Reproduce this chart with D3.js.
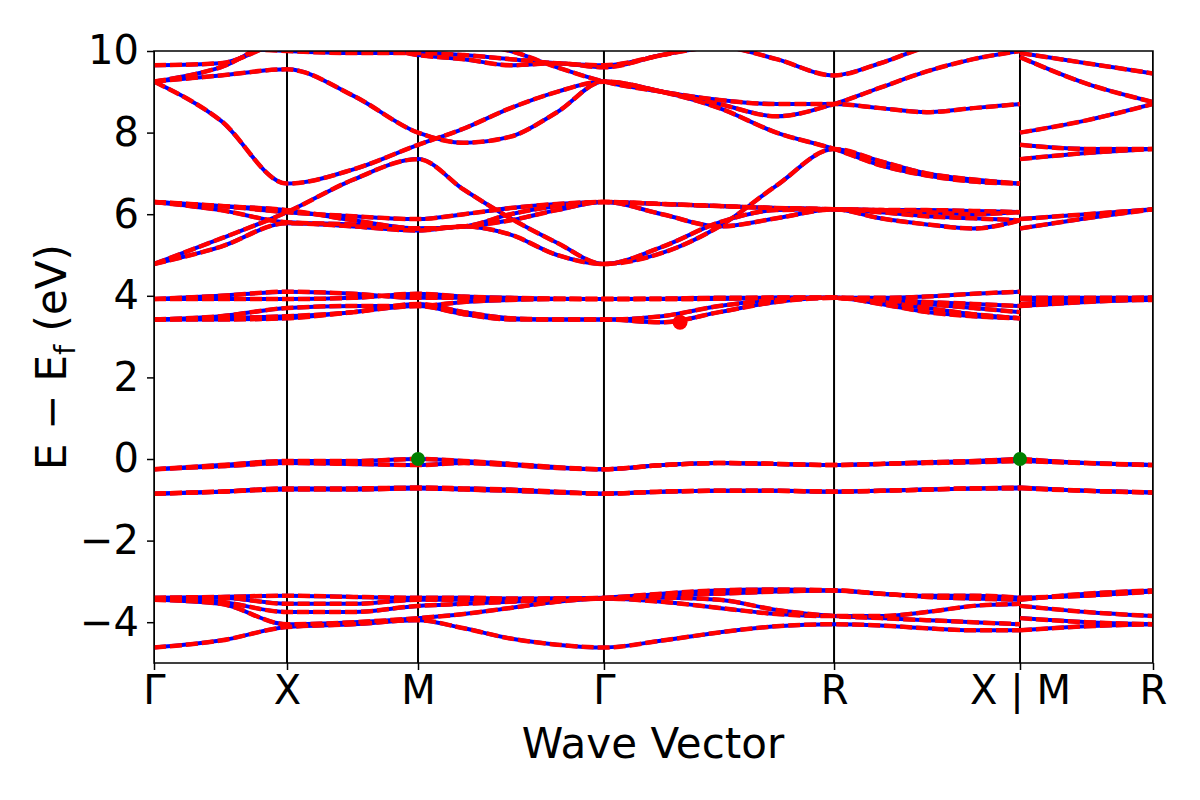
<!DOCTYPE html>
<html><head><meta charset="utf-8">
<script src="https://d3js.org/d3.v7.min.js"></script>
<style>body{margin:0;background:#fff}text{font-family:"DejaVu Sans",sans-serif}</style>
</head><body><svg id="c" width="1200" height="800"></svg>
<script>
const tickLabels=["Γ","X","M","Γ","R","X | M","R"];
const tickK=[0,1,1.985,3.383,5.113,6.511,7.511];
const kA=[0,0.5,1,1.5,1.985,2.33,2.68,3.03,3.383,3.82,4.25,4.68,5.113,5.46,5.81,6.16,6.511];
const kB=[6.511,7.011,7.511];
const bandsA=[
[-4.62,-4.45,-4.12,-4.05,-3.95,-4.15,-4.4,-4.55,-4.62,-4.45,-4.25,-4.1,-4.05,-4.08,-4.15,-4.2,-4.2],
[-3.45,-3.55,-4.05,-4.0,-3.9,-3.8,-3.65,-3.5,-3.42,-3.5,-3.65,-3.8,-3.85,-3.85,-3.75,-3.6,-3.55],
[-3.42,-3.5,-3.75,-3.75,-3.6,-3.55,-3.5,-3.45,-3.42,-3.4,-3.45,-3.7,-3.85,-3.9,-3.95,-4.0,-4.05],
[-3.42,-3.4,-3.55,-3.55,-3.45,-3.45,-3.45,-3.42,-3.42,-3.35,-3.3,-3.25,-3.22,-3.3,-3.38,-3.42,-3.45],
[-3.4,-3.38,-3.35,-3.38,-3.4,-3.4,-3.42,-3.42,-3.4,-3.3,-3.22,-3.2,-3.22,-3.3,-3.35,-3.35,-3.4],
[-0.85,-0.8,-0.72,-0.72,-0.7,-0.72,-0.75,-0.8,-0.85,-0.8,-0.78,-0.78,-0.8,-0.78,-0.75,-0.72,-0.7],
[-0.85,-0.8,-0.75,-0.75,-0.72,-0.75,-0.78,-0.82,-0.85,-0.8,-0.78,-0.78,-0.8,-0.78,-0.75,-0.72,-0.72],
[-0.25,-0.15,-0.05,-0.05,0.0,-0.05,-0.12,-0.2,-0.25,-0.15,-0.1,-0.12,-0.15,-0.12,-0.08,-0.05,0.0],
[-0.25,-0.18,-0.1,-0.12,-0.15,-0.1,-0.15,-0.22,-0.25,-0.15,-0.1,-0.12,-0.15,-0.12,-0.1,-0.08,-0.05],
[3.92,3.92,3.92,3.95,4.05,3.98,3.95,3.93,3.92,3.93,3.95,3.95,3.95,3.95,3.98,4.05,4.1],
[3.92,4.0,4.1,4.05,3.95,3.95,3.92,3.92,3.92,3.92,3.93,3.95,3.95,3.9,3.85,3.8,3.75],
[3.42,3.5,3.7,3.75,3.75,3.85,3.9,3.92,3.92,3.92,3.93,3.95,3.95,3.9,3.8,3.7,3.6],
[3.42,3.45,3.5,3.6,3.8,3.6,3.45,3.42,3.42,3.35,3.6,3.85,3.95,3.85,3.7,3.55,3.45],
[3.42,3.42,3.45,3.6,3.75,3.55,3.42,3.42,3.42,3.5,3.75,3.9,3.95,3.8,3.6,3.5,3.45],
[6.3,6.2,6.05,5.95,5.88,6.0,6.15,6.25,6.3,6.25,6.2,6.15,6.12,6.1,6.1,6.08,6.05],
[6.3,6.1,5.8,5.75,5.65,5.7,5.85,6.1,6.3,6.0,5.7,5.9,6.12,5.9,5.75,5.65,5.85],
[6.3,6.2,6.1,5.85,5.65,5.7,6.0,6.2,6.3,6.25,6.2,6.15,6.12,6.05,5.95,5.9,5.85],
[4.78,5.2,5.78,5.7,5.6,5.7,5.5,5.0,4.78,5.05,5.7,6.7,7.6,7.3,7.0,6.85,6.75],
[4.78,5.4,6.05,6.85,7.35,6.6,5.9,5.3,4.78,5.2,5.8,6.1,6.12,6.1,6.05,6.0,6.05],
[9.25,8.3,6.75,7.1,7.7,8.1,8.6,9.0,9.25,9.0,8.7,8.4,8.7,9.1,9.5,9.8,10.0],
[9.25,9.4,9.55,8.9,8.0,7.75,7.9,8.5,9.25,9.0,8.6,8.0,7.6,7.2,6.95,6.8,6.75],
[9.65,9.7,10.2,10.2,9.9,9.8,9.65,9.7,9.6,9.9,10.1,9.8,9.4,9.7,10.1,10.3,10.3],
[10.3,10.1,10.0,9.95,9.95,9.9,9.8,9.7,9.65,9.9,10.2,10.2,10.2,10.3,10.3,10.3,10.3],
[9.25,9.6,10.3,10.3,10.3,10.2,10.0,9.6,9.25,9.0,8.8,8.7,8.7,8.6,8.5,8.6,8.7]
];
const bandsB=[
[-3.45,-3.3,-3.22],[-3.6,-3.75,-3.85],[-3.9,-4.0,-4.05],[-4.2,-4.1,-4.05],[-3.4,-3.35,-3.25],
[-0.05,-0.1,-0.15],[0.0,-0.1,-0.15],[-0.7,-0.78,-0.82],[-0.72,-0.78,-0.82],
[3.75,3.9,3.95],[3.8,3.88,3.9],[3.95,3.95,3.95],[3.92,3.93,3.95],[3.75,3.85,3.92],
[9.95,9.7,9.45],[9.85,9.2,8.75],[8.0,8.3,8.7],[7.7,7.6,7.6],[7.35,7.5,7.6],[5.88,6.0,6.12],[5.65,5.9,6.12]
];
const redDot=[[3.955,3.35]];
const greenDots=[[1.985,0],[6.511,0]];
const yTicks=[-4,-2,0,2,4,6,8,10];

const svg=d3.select("#c");
const x=d3.scaleLinear().domain([0,7.511]).range([154,1153]);
const y=d3.scaleLinear().domain([-5,10]).range([663,51]);
svg.append("clipPath").attr("id","cl").append("rect").attr("x",154).attr("y",51).attr("width",999).attr("height",612);
const g=svg.append("g").attr("clip-path","url(#cl)");
tickK.forEach(k=>g.append("line").attr("x1",x(k)).attr("x2",x(k)).attr("y1",51).attr("y2",663).attr("stroke","#000").attr("stroke-width",2));
const line=d3.line().x(d=>x(d[0])).y(d=>y(d[1])).curve(d3.curveMonotoneX);
const all=[];
bandsA.forEach(b=>all.push(b.map((v,i)=>[kA[i],v])));
bandsB.forEach(b=>all.push(b.map((v,i)=>[kB[i],v])));
all.forEach(p=>g.append("path").attr("d",line(p)).attr("fill","none").attr("stroke","#0000ff").attr("stroke-width",4));
all.forEach(p=>g.append("path").attr("d",line(p)).attr("fill","none").attr("stroke","#ff0000").attr("stroke-width",4.5).attr("stroke-dasharray","12,4"));
g.selectAll(".rd").data(redDot).join("circle").attr("cx",d=>x(d[0])).attr("cy",d=>y(d[1])).attr("r",7.5).attr("fill","#ff0000");
g.selectAll(".gd").data(greenDots).join("circle").attr("cx",d=>x(d[0])).attr("cy",d=>y(d[1])).attr("r",7).attr("fill","#007f00");
svg.append("rect").attr("x",154).attr("y",51).attr("width",999).attr("height",612).attr("fill","none").attr("stroke","#000").attr("stroke-width",1.5);
const ya=svg.append("g").attr("transform","translate(154,0)").call(d3.axisLeft(y).tickValues(yTicks).tickSize(7).tickPadding(8).tickFormat(d=>d<0?"−"+Math.abs(d):d));
ya.select(".domain").remove();
ya.selectAll("text").attr("font-size",40).attr("font-family","DejaVu Sans");
ya.selectAll("line").attr("stroke-width",1.5);
const xa=svg.append("g").attr("transform","translate(0,663)").call(d3.axisBottom(x).tickValues(tickK).tickSize(7).tickPadding(6).tickFormat((d,i)=>tickLabels[i]));
xa.select(".domain").remove();
xa.selectAll("text").attr("font-size",40).attr("font-family","DejaVu Sans");
xa.selectAll("line").attr("stroke-width",1.5);
svg.append("text").attr("x",653).attr("y",758).attr("text-anchor","middle").attr("font-size",42).text("Wave Vector");
const yl=svg.append("text").attr("transform","translate(66,357) rotate(-90)").attr("text-anchor","middle").attr("font-size",42);
yl.append("tspan").text("E − E");
yl.append("tspan").attr("font-size",29).attr("dy",9).text("f");
yl.append("tspan").attr("dy",-9).text(" (eV)");
</script></body></html>
